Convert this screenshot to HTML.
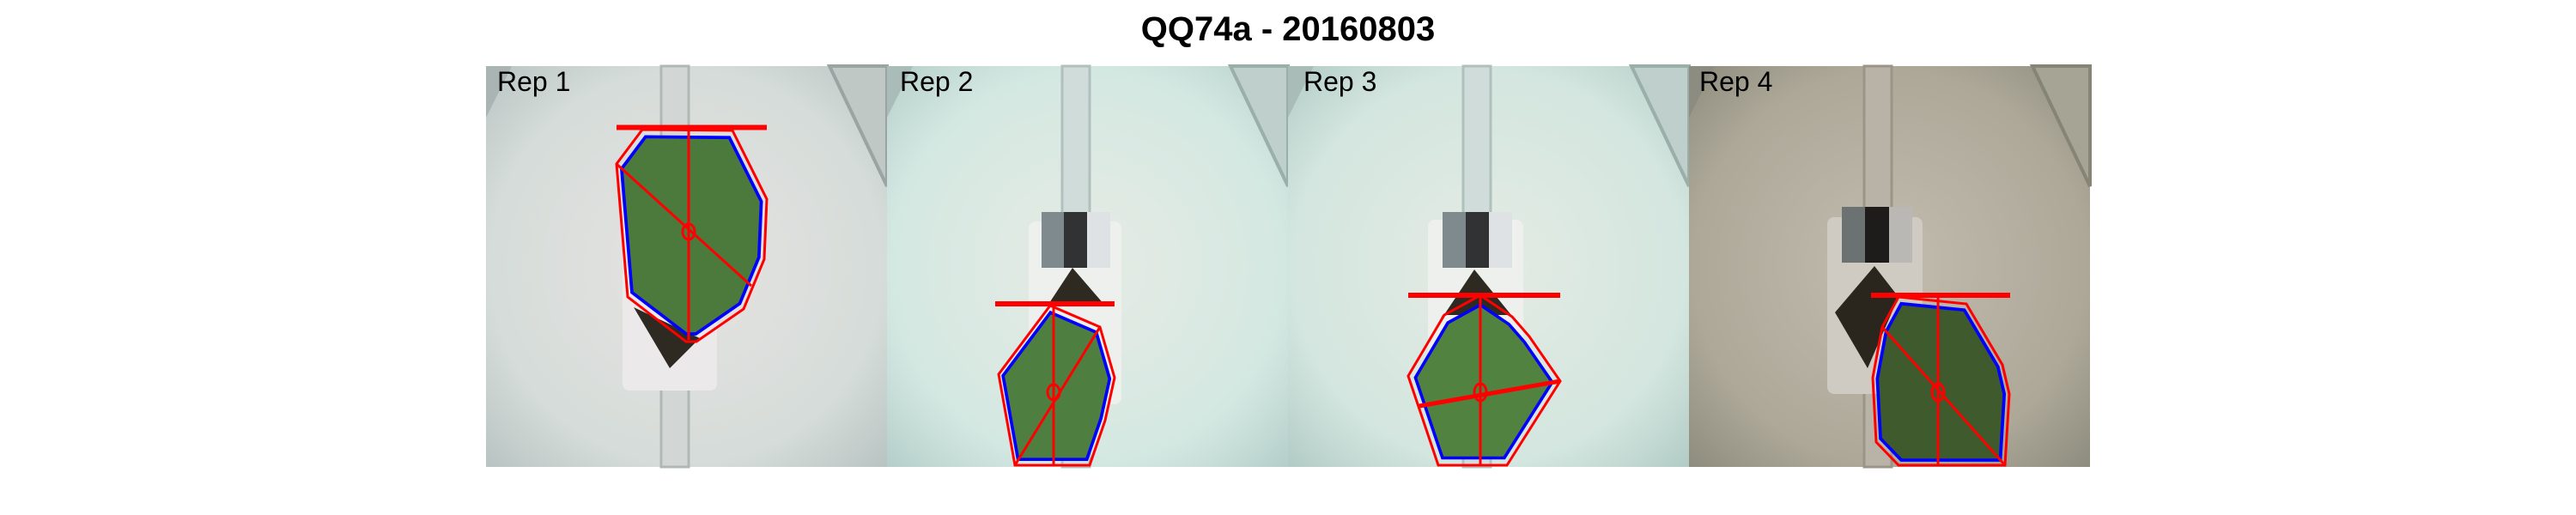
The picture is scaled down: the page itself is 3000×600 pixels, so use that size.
<!DOCTYPE html>
<html><head><meta charset="utf-8">
<style>
html,body{margin:0;padding:0;background:#fff;}
body{width:3000px;height:600px;position:relative;overflow:hidden;font-family:"Liberation Sans",sans-serif;}
#title{position:absolute;left:0;width:3000px;top:12px;text-align:center;font-weight:bold;font-size:40px;color:#000;}
svg{position:absolute;left:0;top:0;}
</style></head>
<body>
<div id="title">QQ74a - 20160803</div>
<svg width="3000" height="600">
<defs>
<radialGradient id="g1" cx="0.5" cy="0.5" r="0.7"><stop offset="0" stop-color="#e6e3e2"/><stop offset="0.7" stop-color="#d5dcd9"/><stop offset="1" stop-color="#b9c4c2"/></radialGradient>
<radialGradient id="g2" cx="0.5" cy="0.5" r="0.7"><stop offset="0" stop-color="#e6ebe4"/><stop offset="0.7" stop-color="#d4e8e2"/><stop offset="1" stop-color="#b6cfca"/></radialGradient>
<radialGradient id="g3" cx="0.5" cy="0.5" r="0.7"><stop offset="0" stop-color="#e4ebe4"/><stop offset="0.7" stop-color="#d3e6df"/><stop offset="1" stop-color="#b3ccc6"/></radialGradient>
<radialGradient id="g4" cx="0.5" cy="0.5" r="0.7"><stop offset="0" stop-color="#c2bcaf"/><stop offset="0.7" stop-color="#ada898"/><stop offset="1" stop-color="#8f8d7f"/></radialGradient>
</defs>

<!-- Panel 1 -->
<g transform="translate(566,77)">
<rect width="467" height="467" fill="url(#g1)"/>
<polygon points="0,0 30,0 0,60" fill="#aab4b2"/><polygon points="400,0 467,0 467,140" fill="#c0c8c6" stroke="#9aa4a2" stroke-width="4"/>
<rect x="204" y="0" width="32" height="467" fill="#d2d7d5" stroke="#b0b8b6" stroke-width="3"/>
<rect x="159" y="164" width="110" height="214" rx="8" fill="#ebe9ea"/>
<polygon points="172,281 214,352 249,317" fill="#2e2a22"/>
<polygon points="182,74 287,75 327,155 324,225 300,283 245,321 233,321 165,269 152,114" fill="#4b7a3c" stroke="#0000ff" stroke-width="4" transform="translate(236,193) scale(0.93) translate(-236,-193)"/>
<g fill="none" stroke="#ff0000" stroke-width="3">
<polygon points="182,74 287,75 327,155 324,225 300,283 245,321 233,321 165,269 152,114"/>
<line x1="236" y1="71" x2="236" y2="319"/>
<line x1="152" y1="114" x2="309" y2="256"/>
<ellipse cx="236" cy="193" rx="7" ry="9"/>
<line x1="152" y1="71.5" x2="327" y2="71.5" stroke-width="6"/>
</g>
<text x="13" y="29" font-size="32" fill="#000">Rep 1</text>
</g>

<!-- Panel 2 -->
<g transform="translate(1033,77)">
<rect width="467" height="467" fill="url(#g2)"/>
<polygon points="0,0 30,0 0,60" fill="#a9bcb8"/><polygon points="400,0 467,0 467,140" fill="#bfd0cc" stroke="#9aaeaa" stroke-width="4"/>
<rect x="204" y="0" width="32" height="467" fill="#d0dcd9" stroke="#b0c0bd" stroke-width="3"/>
<rect x="165" y="181" width="108" height="213" rx="8" fill="#eef0ee"/>
<rect x="180" y="170" width="26" height="65" fill="#7e8a8e"/><rect x="206" y="170" width="27" height="65" fill="#303233"/><rect x="233" y="170" width="27" height="65" fill="#dfe2e4"/>
<polygon points="216,235 254,279 187,279" fill="#2e2a22"/>
<polygon points="190,279 248,304 265,363 254,413 236,465 149,465 130,359" fill="#4f7f40" stroke="#0000ff" stroke-width="4" transform="translate(194,380) scale(0.92) translate(-194,-380)"/>
<g fill="none" stroke="#ff0000" stroke-width="3">
<polygon points="190,279 248,304 265,363 254,413 236,465 149,465 130,359"/>
<line x1="194" y1="277" x2="194" y2="466"/>
<line x1="248" y1="304" x2="149" y2="465"/>
<ellipse cx="194" cy="380" rx="7" ry="9"/>
<line x1="126" y1="277" x2="265" y2="277" stroke-width="6"/>
</g>
<text x="15" y="29" font-size="32" fill="#000">Rep 2</text>
</g>

<!-- Panel 3 -->
<g transform="translate(1500,77)">
<rect width="467" height="467" fill="url(#g3)"/>
<polygon points="0,0 30,0 0,60" fill="#a9bcb8"/><polygon points="400,0 467,0 467,140" fill="#bfd0cc" stroke="#9aaeaa" stroke-width="4"/>
<rect x="204" y="0" width="32" height="467" fill="#d0dcd9" stroke="#b0c0bd" stroke-width="3"/>
<rect x="163" y="179" width="111" height="219" rx="8" fill="#eef0ee"/>
<rect x="180" y="170" width="27" height="65" fill="#7e8a8e"/><rect x="207" y="170" width="27" height="65" fill="#303233"/><rect x="234" y="170" width="27" height="65" fill="#dfe2e4"/>
<polygon points="217,237 260,290 180,290 175,300" fill="#2e2a22"/>
<polygon points="224,267 261,292 281,315 317,367 255,465 175,465 140,361 182,290" fill="#52823f" stroke="#0000ff" stroke-width="4" transform="translate(224,380) scale(0.9) translate(-224,-380)"/>
<g fill="none" stroke="#ff0000" stroke-width="3">
<polygon points="224,267 261,292 281,315 317,367 255,465 175,465 140,361 182,290"/>
<line x1="224" y1="267" x2="224" y2="466"/>
<line x1="153" y1="396" x2="317" y2="367" stroke-width="5"/>
<ellipse cx="224" cy="380" rx="7" ry="10"/>
<line x1="140" y1="267" x2="317" y2="267" stroke-width="6"/>
</g>
<text x="18" y="29" font-size="32" fill="#000">Rep 3</text>
</g>

<!-- Panel 4 -->
<g transform="translate(1967,77)">
<rect width="467" height="467" fill="url(#g4)"/>
<polygon points="0,0 30,0 0,60" fill="#8d8c80"/><polygon points="400,0 467,0 467,140" fill="#a6a595" stroke="#858475" stroke-width="4"/>
<rect x="204" y="0" width="32" height="467" fill="#b8b3a6" stroke="#9a9587" stroke-width="3"/>
<rect x="161" y="176" width="111" height="206" rx="8" fill="#cfcbc2"/>
<rect x="178" y="164" width="27" height="65" fill="#6c7272"/><rect x="205" y="164" width="28" height="65" fill="#1e1c1a"/><rect x="233" y="164" width="27" height="65" fill="#b9b8b4"/>
<polygon points="216,233 244,269 208,352 170,287" fill="#2a261e"/>
<polygon points="244,269 323,277 365,348 373,382 368,465 244,465 218,438 214,363 225,304" fill="#3f5a2c" stroke="#0000ff" stroke-width="4" transform="translate(290,380) scale(0.93) translate(-290,-380)"/>
<g fill="none" stroke="#ff0000" stroke-width="3">
<polygon points="244,269 323,277 365,348 373,382 368,465 244,465 218,438 214,363 225,304"/>
<line x1="290" y1="267" x2="290" y2="466"/>
<line x1="225" y1="304" x2="368" y2="465"/>
<ellipse cx="290" cy="380" rx="7" ry="10"/>
<line x1="212" y1="267" x2="374" y2="267" stroke-width="6"/>
</g>
<text x="12" y="29" font-size="32" fill="#000">Rep 4</text>
</g>
</svg>
</body></html>
